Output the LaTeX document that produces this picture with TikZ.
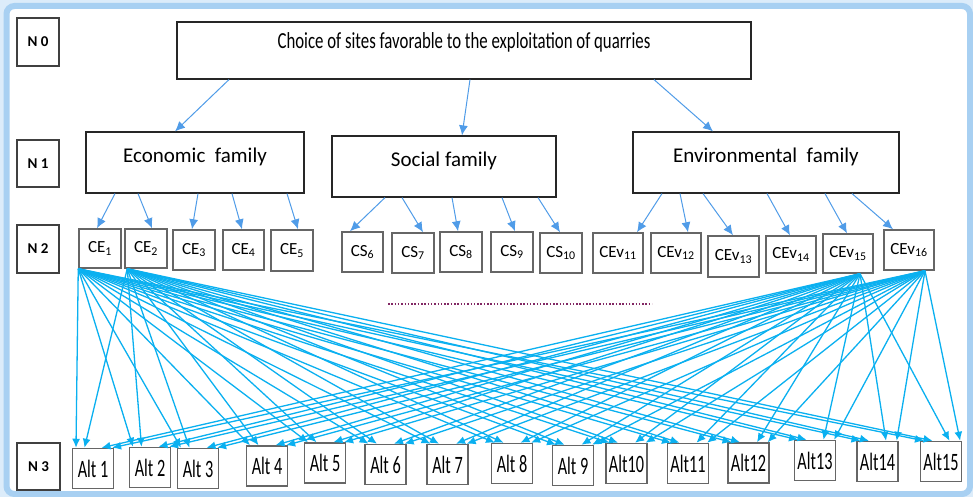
\documentclass[tikz,border=0pt]{standalone}
\usepackage{fontspec}
\setmainfont{Carlito}
\usetikzlibrary{arrows.meta,calc}
\definecolor{framecol}{RGB}{168,208,242}
\definecolor{famblue}{RGB}{80,156,232}
\definecolor{linkblue}{RGB}{10,176,240}
\definecolor{dotcol}{RGB}{130,40,100}
\newcommand{\narrow}[2][0.65]{\scalebox{#1}[1]{#2}}

\begin{document}
\begin{tikzpicture}[x=1pt,y=-1pt,
  lvlbox/.style={draw=black!75, line width=1.4pt, minimum width=42pt, minimum height=47pt, inner sep=0pt, font=\fontsize{15}{17}\selectfont\bfseries},
  fambox/.style={draw=black!85, line width=1.2pt, inner sep=0pt, minimum height=61pt, text height=14pt, text depth=13pt, font=\fontsize{21}{24}\selectfont},
  critbox/.style={draw=black!60, line width=1.5pt, minimum height=40pt, inner sep=0pt, font=\fontsize{17}{19}\selectfont},
  altbox/.style={draw=black!60, line width=1.5pt, minimum width=41pt, minimum height=40pt, inner sep=0pt, font=\fontsize{25}{27}\selectfont},
  famarrow/.style={draw=famblue, line width=1pt, -{Latex[length=10pt,width=9pt]}},
  link/.style={draw=linkblue, line width=1.3pt, -{Latex[length=9pt,width=8pt]}}]
  % frame
  \fill[framecol!40] (0,0) rectangle (973,497);
  \draw[framecol, line width=6pt, fill=white, rounded corners=8pt] (6.5,6) rectangle (970,494);
  \useasboundingbox (0,0) rectangle (973,497);

  % level labels
  \node[lvlbox, minimum height=48pt] (n0) at (38,42) {N 0};
  \node[lvlbox] (n1) at (38,163.5) {N 1};
  \node[lvlbox, minimum height=48pt] (n2) at (38,249) {N 2};
  \node[lvlbox, minimum width=43pt] (n3) at (38.5,466.5) {N 3};

  % goal and families
  \node[fambox, minimum width=574pt, minimum height=57pt, text height=16pt, text depth=19pt, font=\fontsize{23}{25}\selectfont] (title) at (464,50.5) {\narrow[0.73]{Choice of sites favorable to the exploitation of quarries}};
  \node[fambox, minimum width=218pt] (eco) at (195,162.5) {Economic \ family};
  \node[fambox, minimum width=224pt] (soc) at (444,166.5) {Social family};
  \node[fambox, minimum width=266pt] (env) at (766,162.5) {Environmental \ family};

  % criteria
  \node[critbox, minimum width=42pt, minimum height=39pt] (ce1) at (100,248.5) {CE\textsubscript{1}};
  \node[critbox, minimum width=42pt, minimum height=39pt] (ce2) at (146,248.5) {CE\textsubscript{2}};
  \node[critbox, minimum width=42pt] (ce3) at (194,250) {CE\textsubscript{3}};
  \node[critbox, minimum width=41pt] (ce4) at (243.5,250) {CE\textsubscript{4}};
  \node[critbox, minimum width=42pt, minimum height=41pt] (ce5) at (292,250.5) {CE\textsubscript{5}};
  \node[critbox, minimum width=41pt] (cs6) at (362.5,252) {CS\textsubscript{6}};
  \node[critbox, minimum width=42pt] (cs7) at (413,253) {CS\textsubscript{7}};
  \node[critbox, minimum width=42pt] (cs8) at (461,252) {CS\textsubscript{8}};
  \node[critbox, minimum width=42pt] (cs9) at (512,252) {CS\textsubscript{9}};
  \node[critbox, minimum width=42pt] (cs10) at (561,253) {CS\textsubscript{10}};
  \node[critbox, minimum width=50pt] (cev11) at (618,253) {CEv\textsubscript{11}};
  \node[critbox, minimum width=50pt] (cev12) at (676,253) {CEv\textsubscript{12}};
  \node[critbox, minimum width=51pt, minimum height=41pt] (cev13) at (733.5,256.5) {CEv\textsubscript{13}};
  \node[critbox, minimum width=50pt, minimum height=37pt] (cev14) at (791,254.5) {CEv\textsubscript{14}};
  \node[critbox, minimum width=50pt, minimum height=39pt] (cev15) at (848,253.5) {CEv\textsubscript{15}};
  \node[critbox, minimum width=50pt] (cev16) at (909,250) {CEv\textsubscript{16}};

  % alternatives
  \node[altbox] (alt1) at (93,468.5) {\narrow{Alt 1}};
  \node[altbox] (alt2) at (150,467.5) {\narrow{Alt 2}};
  \node[altbox] (alt3) at (198,468.5) {\narrow{Alt 3}};
  \node[altbox] (alt4) at (267,466) {\narrow{Alt 4}};
  \node[altbox] (alt5) at (325,463) {\narrow{Alt 5}};
  \node[altbox] (alt6) at (385.5,464.5) {\narrow{Alt 6}};
  \node[altbox] (alt7) at (447.5,464.5) {\narrow{Alt 7}};
  \node[altbox] (alt8) at (512,463.5) {\narrow{Alt 8}};
  \node[altbox] (alt9) at (573,465.5) {\narrow{Alt 9}};
  \node[altbox] (alt10) at (626.5,463.5) {\narrow{Alt10}};
  \node[altbox] (alt11) at (688,463.5) {\narrow{Alt11}};
  \node[altbox] (alt12) at (748.5,463) {\narrow{Alt12}};
  \node[altbox] (alt13) at (815,460.5) {\narrow{Alt13}};
  \node[altbox] (alt14) at (877.5,461.5) {\narrow{Alt14}};
  \node[altbox] (alt15) at (941,461.5) {\narrow{Alt15}};

  % goal -> families
  \draw[famarrow] (229,0 |- title.south) -- (175,0 |- eco.north);
  \draw[famarrow] (470,0 |- title.south) -- (462,0 |- soc.north);
  \draw[famarrow] (654,0 |- title.south) -- (713,0 |- env.north);

  % families -> criteria
  \draw[famarrow] (115,0 |- eco.south) -- (97,0 |- ce1.north);
  \draw[famarrow] (138,0 |- eco.south) -- (152,0 |- ce2.north);
  \draw[famarrow] (198,0 |- eco.south) -- (192,0 |- ce3.north);
  \draw[famarrow] (232,0 |- eco.south) -- (242,0 |- ce4.north);
  \draw[famarrow] (287,0 |- eco.south) -- (298,0 |- ce5.north);
  \draw[famarrow] (385,0 |- soc.south) -- (350,0 |- cs6.north);
  \draw[famarrow] (402,0 |- soc.south) -- (423,0 |- cs7.north);
  \draw[famarrow] (452,0 |- soc.south) -- (458,0 |- cs8.north);
  \draw[famarrow] (502,0 |- soc.south) -- (515,0 |- cs9.north);
  \draw[famarrow] (538,0 |- soc.south) -- (560,0 |- cs10.north);
  \draw[famarrow] (662,0 |- env.south) -- (637,0 |- cev11.north);
  \draw[famarrow] (680,0 |- env.south) -- (688,0 |- cev12.north);
  \draw[famarrow] (703,0 |- env.south) -- (733,0 |- cev13.north);
  \draw[famarrow] (767,0 |- env.south) -- (790,0 |- cev14.north);
  \draw[famarrow] (825,0 |- env.south) -- (847,0 |- cev15.north);
  \draw[famarrow] (852,0 |- env.south) -- (893,0 |- cev16.north);

  % dotted gap
  \draw[dotcol, line width=1.3pt, dash pattern=on 1.5pt off 1.8pt] (388,304) -- (652,304);

  % criteria -> alternatives
  \foreach \i in {1,...,15} {
    \draw[link] (ce1.south west) -- ($(alt\i.north west)!0.1!(alt\i.north east)$);
    \draw[link] ($(ce2.south west)+(3,0)$) -- ($(alt\i.north west)!0.3!(alt\i.north east)$);
    \draw[link] (860,0 |- cev15.south) -- ($(alt\i.north west)!0.7!(alt\i.north east)$);
    \draw[link] (925,0 |- cev16.south) -- ($(alt\i.north west)!0.95!(alt\i.north east)$);
  }
\end{tikzpicture}
\end{document}
